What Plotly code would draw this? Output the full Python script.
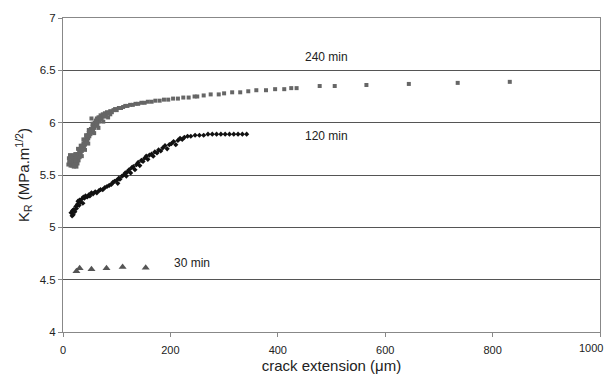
import plotly.graph_objects as go

# 240 min series
x240 = [10, 11, 12, 13, 14, 15, 16, 17, 18, 18, 19, 20, 20, 21, 22, 22, 23, 24, 25, 25,
        26, 27, 28, 29, 30, 31, 32, 33, 34, 35, 36, 37, 38, 39, 40, 41, 42, 43, 44, 45,
        46, 47, 48, 49, 50, 51, 52, 53, 54, 55, 56, 57, 58, 59, 60, 61, 62, 63, 64, 65,
        66, 67, 68, 70, 72, 74, 76, 78, 80, 82, 85, 88, 91, 94, 97, 100, 104, 108, 112, 116,
        120, 125, 130, 135, 140, 146, 152, 158, 165, 172, 180, 188, 196, 205, 214, 224, 234, 245, 250, 262,
        275, 290, 300, 315, 330, 345, 360, 378, 395, 412, 425, 435, 478, 506, 565, 644, 735, 832,
        12, 15, 24, 28, 33, 38, 43, 48, 55, 62, 70, 78, 88, 35, 41, 47, 58, 66, 75, 84]
y240 = [5.60, 5.66, 5.62, 5.69, 5.59, 5.60, 5.62, 5.59, 5.64, 5.67, 5.61, 5.69, 5.58, 5.63, 5.66, 5.60, 5.70, 5.62, 5.68, 5.58,
        5.65, 5.61, 5.70, 5.64, 5.72, 5.67, 5.74, 5.70, 5.76, 5.73, 5.78, 5.75, 5.80, 5.77, 5.82, 5.79, 5.84, 5.81, 5.86, 5.83,
        5.88, 5.85, 5.90, 5.87, 5.92, 5.89, 5.94, 6.04, 5.91, 5.96, 5.93, 5.98, 5.95, 6.00, 5.97, 6.02, 5.99, 6.04, 5.98, 6.03,
        6.05, 6.01, 6.05, 6.07, 6.04, 6.08, 6.06, 6.09, 6.08, 6.10, 6.09, 6.11, 6.10, 6.12, 6.13, 6.12, 6.14, 6.14, 6.15, 6.16,
        6.16, 6.17, 6.17, 6.18, 6.18, 6.19, 6.19, 6.20, 6.20, 6.21, 6.21, 6.22, 6.22, 6.23, 6.23, 6.24, 6.24, 6.25, 6.25, 6.26,
        6.27, 6.27, 6.28, 6.29, 6.29, 6.30, 6.31, 6.31, 6.32, 6.32, 6.33, 6.33, 6.35, 6.35, 6.36, 6.37, 6.38, 6.39,
        5.63, 5.67, 5.64, 5.75, 5.78, 5.84, 5.88, 5.93, 5.99, 6.00, 6.03, 6.06, 6.08, 5.68, 5.74, 5.80, 5.90, 5.95, 6.01, 6.05]

# 120 min series
x120 = [15, 17, 18, 19, 20, 22, 24, 25, 27, 28, 30, 31, 33, 35, 37, 38, 40, 42, 45, 48,
        50, 53, 56, 60, 63, 67, 70, 74, 78, 82, 86, 90, 93, 96, 100, 102, 104, 106, 110, 113,
        116, 118, 120, 123, 126, 128, 131, 134, 137, 140, 143, 146, 149, 152, 155, 158, 161, 165, 168, 171,
        175, 178, 182, 186, 190, 194, 198, 202, 206, 210, 214, 218, 222, 226, 232, 238, 246, 254, 262, 270,
        278, 286, 294, 302, 310, 318, 326, 334, 342]
y120 = [5.14, 5.11, 5.16, 5.12, 5.17, 5.15, 5.20, 5.18, 5.22, 5.25, 5.21, 5.26, 5.24, 5.27, 5.23, 5.29, 5.28, 5.30, 5.29, 5.31,
        5.30, 5.33, 5.32, 5.34, 5.33, 5.35, 5.36, 5.36, 5.38, 5.39, 5.40, 5.41, 5.43, 5.44, 5.45, 5.42, 5.47, 5.46, 5.49, 5.50,
        5.52, 5.49, 5.53, 5.55, 5.52, 5.57, 5.58, 5.55, 5.60, 5.62, 5.59, 5.64, 5.63, 5.66, 5.68, 5.65, 5.69, 5.70, 5.68, 5.72,
        5.71, 5.74, 5.73, 5.76, 5.78, 5.75, 5.79, 5.80, 5.82, 5.79, 5.83, 5.85, 5.84, 5.86, 5.87, 5.87, 5.88, 5.88, 5.88, 5.89,
        5.89, 5.89, 5.89, 5.89, 5.89, 5.89, 5.89, 5.89, 5.89]

# 30 min series
x30 = [25, 31, 53, 81, 111, 154]
y30 = [4.58, 4.61, 4.60, 4.61, 4.62, 4.615]

# x tick labels (the last one is drawn as an annotation so it is not clipped)
x_tickvals = [0, 200, 400, 600, 800]
x_last_tick = 1000

labels = ["240 min", "120 min", "30 min"]
label_x = [491, 491, 240]
label_y = [6.63, 5.87, 4.66]

FONT = "Liberation Sans, Arial, sans-serif"

fig = go.Figure()
fig.add_trace(go.Scatter(x=x240, y=y240, mode="markers",
                         marker=dict(symbol="square", size=4, color="#666666"), name="240 min"))
fig.add_trace(go.Scatter(x=x120, y=y120, mode="markers",
                         marker=dict(symbol="diamond", size=4, color="#111111"), name="120 min"))
fig.add_trace(go.Scatter(x=x30, y=y30, mode="markers",
                         marker=dict(symbol="triangle-up", size=7, color="#555555"), name="30 min"))

for t, lx, ly in zip(labels, label_x, label_y):
    fig.add_annotation(x=lx, y=ly, text=t, showarrow=False,
                       font=dict(family=FONT, size=12, color="#222222"))

# tick mark at 1000 handled by the axis; its label placed flush with the figure edge
fig.add_annotation(x=x_last_tick, y=0, yref="paper", xref="x", text=str(x_last_tick),
                   showarrow=False, xanchor="right", yanchor="top", xshift=5, yshift=-8,
                   font=dict(family=FONT, size=11, color="#222222"))

# the page body adds an 8px offset; the figure is sized so the page does not scroll
fig.update_layout(
    width=597, height=366,
    margin=dict(l=55, r=5, t=10, b=42),
    paper_bgcolor="white", plot_bgcolor="white",
    showlegend=False,
    font=dict(family=FONT, size=12, color="#222222"),
    xaxis=dict(range=[0, 1000], tickvals=x_tickvals + [x_last_tick],
               ticktext=[str(v) for v in x_tickvals] + [""],
               showgrid=False,
               showline=True, linecolor="#888888", linewidth=1, mirror=True,
               ticks="outside", ticklen=4, tickcolor="#888888",
               tickfont=dict(size=11), ticklabelstandoff=4,
               zeroline=False, automargin=False,
               title=dict(text="crack extension (μm)", font=dict(size=15), standoff=5)),
    yaxis=dict(range=[4, 7], dtick=0.5, tick0=4, showgrid=True, gridcolor="#555555", gridwidth=1,
               showline=True, linecolor="#888888", linewidth=1, mirror=True,
               ticks="outside", ticklen=4, tickcolor="#888888",
               tickfont=dict(size=11.5),
               zeroline=False, automargin=False,
               title=dict(text="K<sub>R</sub> (MPa.m<sup>1/2</sup>)", font=dict(size=15), standoff=6)),
)

fig.write_html("out.html")
